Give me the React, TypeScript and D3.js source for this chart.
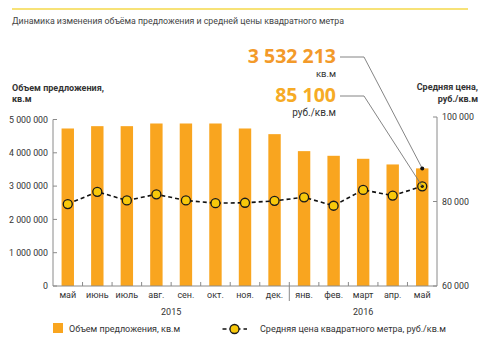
import React from "react";
import * as d3 from "d3";

const months = ["май", "июнь", "июль", "авг.", "сен.", "окт.", "ноя.", "дек.", "янв.", "фев.", "март", "апр.", "май"];
const years = [
  { label: "2015", from: 0, to: 7 },
  { label: "2016", from: 8, to: 12 },
];
const supply = [4730000, 4800000, 4800000, 4880000, 4880000, 4880000, 4730000, 4560000, 4050000, 3910000, 3820000, 3650000, 3532213];
const price = [79400, 82300, 80250, 81700, 80250, 79600, 79700, 80150, 81000, 79000, 82750, 81400, 83600];
const leftTicks = [0, 1000000, 2000000, 3000000, 4000000, 5000000];
const rightTicks = [60000, 80000, 100000];

const W = 494;
const H = 344;
const FONT = "Roboto, 'Noto Sans', sans-serif";
const BIGFONT = "'Open Sans', 'Noto Sans', sans-serif";
const ORANGE = "#f9a51f";
const YELLOW = "#f8c80a";
const AXIS = "#8a8a8a";
const TEXT = "#333333";

const fmt = (v: number) => d3.format(",")(v).replace(/,/g, " ");

export default function App() {
  const x = d3.scaleBand<number>().domain(d3.range(months.length)).range([53, 437]).paddingInner(0.58).paddingOuter(0.29);
  const yL = d3.scaleLinear().domain([0, 5000000]).range([286, 119.5]);
  const yR = d3.scaleLinear().domain([60000, 100000]).range([286, 117]);
  const step = x.step();
  const bw = x.bandwidth();
  const cx = (i: number) => (x(i) as number) + bw / 2;
  const line = d3
    .line<number>()
    .x((_, i) => cx(i))
    .y((d) => yR(d));

  const last = months.length - 1;
  const barTop = { x: cx(last), y: yL(supply[last]) };
  const dotLast = { x: cx(last), y: yR(price[last]) };

  return (
    <svg width={W} height={H} style={{ position: "absolute", left: 0, top: 0, background: "#fff" }} fontFamily={FONT}>
      <line x1={12} x2={468} y1={9} y2={9} stroke="#f5d84a" strokeWidth={1.6} />
      <text x={12} y={24} fontSize={8.8} fill="#444">
        Динамика изменения объёма предложения и средней цены квадратного метра
      </text>

      {/* axis titles */}
      <text x={12} y={91} fontSize={9} fontWeight="bold" fill={TEXT}>Объем предложения,</text>
      <text x={12} y={102} fontSize={9} fontWeight="bold" fill={TEXT}>кв.м</text>
      <text x={478} y={90} fontSize={9} fontWeight="bold" fill={TEXT} textAnchor="end">Средняя цена,</text>
      <text x={478} y={102} fontSize={9} fontWeight="bold" fill={TEXT} textAnchor="end">руб./кв.м</text>

      {/* bars */}
      {supply.map((v, i) => (
        <rect key={i} x={x(i)} y={yL(v)} width={bw} height={yL(0) - yL(v)} fill={ORANGE} />
      ))}

      {/* axes */}
      <line x1={53} x2={53} y1={yL(5000000)} y2={yL(0)} stroke={AXIS} strokeWidth={1} />
      <line x1={437} x2={437} y1={yR(100000)} y2={yR(60000)} stroke={AXIS} strokeWidth={1} />
      <line x1={53} x2={437} y1={yL(0)} y2={yL(0)} stroke={AXIS} strokeWidth={1} />
      {leftTicks.map((t) => (
        <g key={t}>
          <line x1={53} x2={57} y1={yL(t)} y2={yL(t)} stroke={AXIS} />
          <text x={48} y={yL(t) + 3.2} fontSize={8.8} fill={TEXT} textAnchor="end">{fmt(t)}</text>
        </g>
      ))}
      {rightTicks.map((t) => (
        <g key={t}>
          <line x1={433} x2={437} y1={yR(t)} y2={yR(t)} stroke={AXIS} />
          <text x={442} y={yR(t) + 3.2} fontSize={8.8} fill={TEXT}>{fmt(t)}</text>
        </g>
      ))}
      {d3.range(1, months.length).map((i) => (
        <line key={i} x1={53 + i * step} x2={53 + i * step} y1={yL(0) - 4} y2={i === 8 ? 301 : yL(0)} stroke={AXIS} />
      ))}
      {months.map((m, i) => (
        <text key={i} x={cx(i)} y={298} fontSize={9} fill={TEXT} textAnchor="middle">{m}</text>
      ))}
      {years.map((yv) => (
        <text key={yv.label} x={(53 + yv.from * step + 53 + (yv.to + 1) * step) / 2} y={315} fontSize={9} fill={TEXT} textAnchor="middle">{yv.label}</text>
      ))}

      {/* price line */}
      <path d={line(price) || ""} fill="none" stroke="#111" strokeWidth={1.6} strokeDasharray="4,3" />
      {price.map((p, i) => (
        <circle key={i} cx={cx(i)} cy={yR(p)} r={4.5} fill={YELLOW} stroke="#1a1a1a" strokeWidth={1.3} />
      ))}
      <circle cx={dotLast.x} cy={dotLast.y} r={1.6} fill="#111" />

      {/* annotations */}
      <text x={336} y={62.5} fontSize={19.5} fontWeight="bold" fill="#f39a2a" textAnchor="end" fontFamily={BIGFONT}>3 532 213</text>
      <text x={336} y={77} fontSize={9.5} fill={TEXT} textAnchor="end">кв.м</text>
      <text x={336} y={101.5} fontSize={19.5} fontWeight="bold" fill="#f6ab25" textAnchor="end" fontFamily={BIGFONT}>85 100</text>
      <text x={336} y={116} fontSize={10} fill={TEXT} textAnchor="end">руб./кв.м</text>
      <polyline points={`340,57 364,57 ${barTop.x},${barTop.y}`} fill="none" stroke="#777" strokeWidth={0.9} />
      <polyline points={`340,96 364,96 ${dotLast.x},${dotLast.y}`} fill="none" stroke="#777" strokeWidth={0.9} />
      <circle cx={barTop.x} cy={barTop.y} r={2} fill="#111" />

      {/* legend */}
      <rect x={53} y={323} width={10} height={10} fill={ORANGE} />
      <text x={69} y={331.5} fontSize={9} fill={TEXT}>Объем предложения, кв.м</text>
      <line x1={222} x2={247} y1={329} y2={329} stroke="#111" strokeWidth={1.6} strokeDasharray="4,3" strokeDashoffset={-0.5} />
      <circle cx={234.5} cy={329} r={4.5} fill={YELLOW} stroke="#1a1a1a" strokeWidth={1.3} />
      <text x={260} y={331.5} fontSize={9} fill={TEXT}>Средняя цена квадратного метра, руб./кв.м</text>
    </svg>
  );
}
